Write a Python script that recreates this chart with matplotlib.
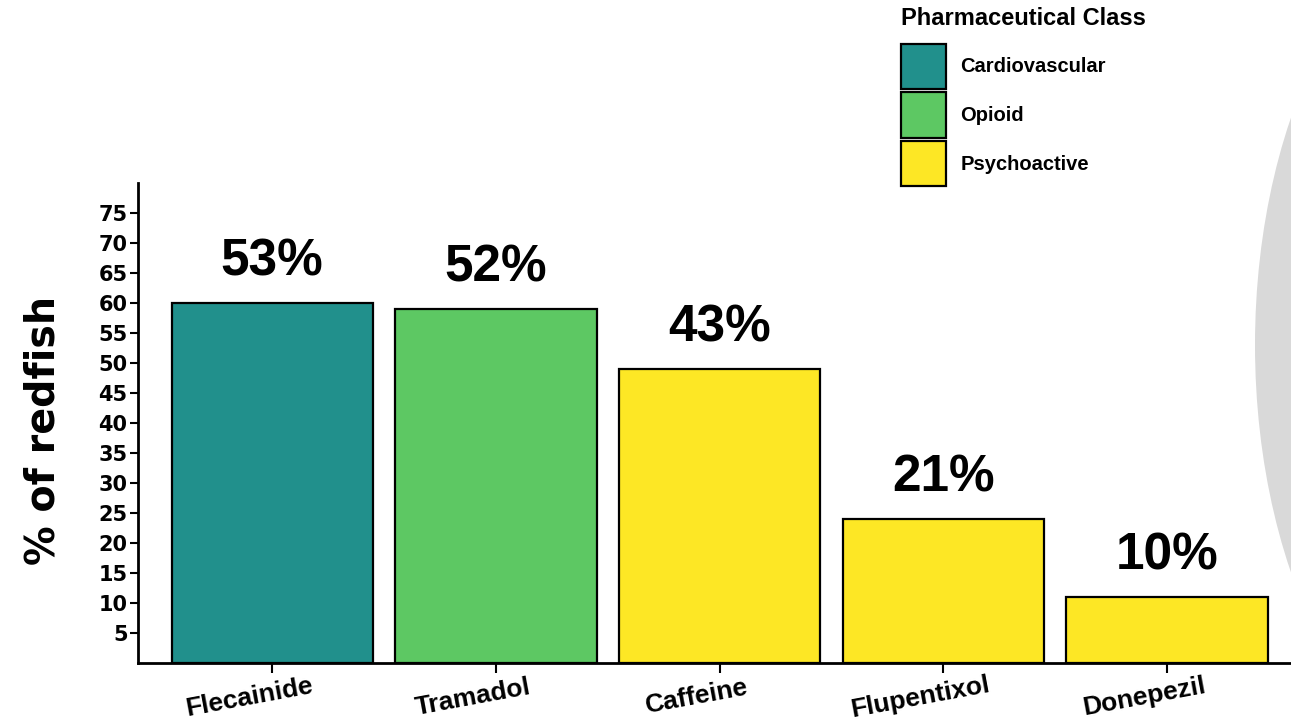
import matplotlib
matplotlib.use("Agg")
import matplotlib.pyplot as plt
from matplotlib.patches import Patch, Ellipse

drugs = ["Flecainide", "Tramadol", "Caffeine", "Flupentixol", "Donepezil"]
heights = [60, 59, 49, 24, 11]
pct_labels = ["53%", "52%", "43%", "21%", "10%"]
classes = ["Cardiovascular", "Opioid", "Psychoactive", "Psychoactive", "Psychoactive"]
class_names = ["Cardiovascular", "Opioid", "Psychoactive"]
class_colors = {"Cardiovascular": "#21908C", "Opioid": "#5DC863", "Psychoactive": "#FDE725"}
yticks = list(range(5, 80, 5))

W, H = 1291, 722
fig = plt.figure(figsize=(W / 100, H / 100), dpi=100)

# grey slide shape on the right edge
fig.patches.append(Ellipse((1505 / W, 1 - 345 / H), 500 / W, 880 / H,
                           transform=fig.transFigure, facecolor="#d9d9d9",
                           edgecolor="none", zorder=0))

ax = fig.add_axes([138 / W, 1 - 663 / H, 1152 / W, 480 / H])
ax.patch.set_alpha(0)

x = list(range(len(drugs)))
ax.bar(x, heights, width=0.9,
       color=[class_colors[c] for c in classes],
       edgecolor="black", linewidth=1.6, zorder=2)

# percentage labels above bars
for xi, h, lab in zip(x, heights, pct_labels):
    ax.annotate(lab, (xi, h), xytext=(0, 27), textcoords="offset pixels",
                ha="center", va="baseline", fontsize=37, fontweight="bold",
                family="Liberation Sans", zorder=3)

ax.set_xlim(-0.6, 4.55)
ax.set_ylim(0, 80)
ax.set_yticks(yticks)
ax.set_yticklabels([str(t) for t in yticks], fontsize=15, fontweight="bold",
                   family="DejaVu Sans")
ax.set_xticks(x)
ax.set_xticklabels([""] * len(x))
for xi, name in zip(x, drugs):
    ax.annotate(name, (xi, 0), xycoords=("data", "axes fraction"),
                xytext=(-23, -34), textcoords="offset pixels",
                ha="center", va="center", rotation=10.5, fontsize=19,
                fontweight="bold", family="Liberation Sans",
                annotation_clip=False)

ax.tick_params(axis="y", length=6, width=1.5, pad=1.5)
ax.tick_params(axis="x", length=7, width=1.5)
for s in ["top", "right"]:
    ax.spines[s].set_visible(False)
for s in ["left", "bottom"]:
    ax.spines[s].set_linewidth(2)

ax.set_ylabel("% of redfish", fontsize=28.5, fontweight="bold", family="DejaVu Sans",
              va="center")
ax.yaxis.set_label_coords((44 - 138) / 1152, (663 - 430) / 480)

handles = [Patch(facecolor=class_colors[c], edgecolor="black", linewidth=1.6)
           for c in class_names]
leg = fig.legend(handles, class_names, loc="upper left",
                 bbox_to_anchor=(901 / W, 1 - 7 / H), frameon=False,
                 title="Pharmaceutical Class",
                 prop={"family": "Liberation Sans", "weight": "bold", "size": 14.5},
                 title_fontproperties={"family": "Liberation Sans", "weight": "bold", "size": 17},
                 handlelength=2.25, handleheight=3.1, labelspacing=0.15,
                 handletextpad=0.69, borderpad=0, borderaxespad=0)
leg._legend_box.align = "left"
leg._legend_box.sep = 10

fig.savefig("out.png", dpi=100)
